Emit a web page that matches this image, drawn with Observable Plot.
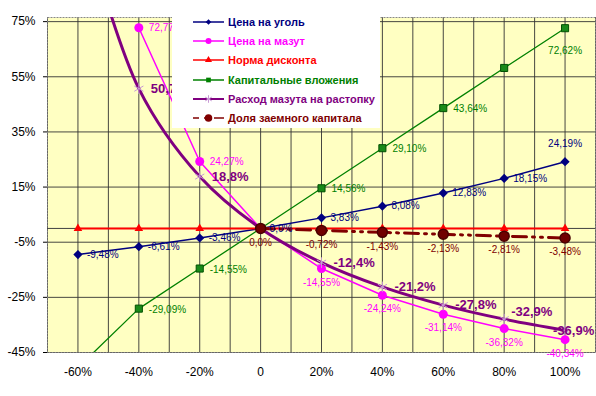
<!DOCTYPE html>
<html><head><meta charset="utf-8">
<script src="https://cdn.jsdelivr.net/npm/d3@7"></script>
<script src="https://cdn.jsdelivr.net/npm/@observablehq/plot@0.6"></script>
<style>
body{margin:0;background:#fff;font-family:"Liberation Sans",Arial,sans-serif;}
#wrap{position:relative;width:596px;height:396px;}
#legend{position:absolute;left:172px;top:0;width:208px;height:128px;background:#fff;}
</style></head><body><div id="wrap"></div>
<script>
// Data (percent change of the NPV-type indicator vs. percent change of factor)
const xs      = [-60, -40, -20, 0, 20, 40, 60, 80, 100];
const ugol    = [-9.48, -6.61, -3.46, 0, 3.83, 8.08, 12.83, 18.15, 24.19];
const mazut   = [null, 72.77, 24.27, 0, -14.55, -24.24, -31.14, -36.32, -40.34];
const norma   = [0, 0, 0, 0, 0, 0, 0, 0, 0];
const kap     = [-50.5, -29.09, -14.55, 0, 14.56, 29.10, 43.64, 58.2, 72.62];
const rashod  = [118, 50.7, 18.8, 0, -12.4, -21.2, -27.8, -32.9, -36.9];
const dolya   = [null, null, null, 0, -0.72, -1.43, -2.13, -2.81, -3.48];

const xTicks = [-60, -40, -20, 0, 20, 40, 60, 80, 100];
const yTicks = [75, 55, 35, 15, -5, -25, -45];
const seriesNames = ["Цена на уголь", "Цена на мазут", "Норма дисконта",
  "Капитальные вложения", "Расход мазута на растопку", "Доля заемного капитала"];
const colors = ["#000080", "#FF00FF", "#FF0000", "#008000", "#800080", "#800000"];

// which points carry a data label
const ugolLab   = [-60, -40, -20, 0, 20, 40, 60, 80, 100];
const mazutLab  = [-40, -20, 20, 40, 60, 80, 100];
const kapLab    = [-40, -20, 20, 40, 60, 100];
const rashodLab = [-40, -20, 20, 40, 60, 80, 100];
const dolyaLab  = [0, 20, 40, 60, 80, 100];

const rows = (arr) => xs.map((x, i) => ({x, y: arr[i]})).filter(d => d.y != null);
const labRows = (arr, which, dec) => rows(arr).filter(d => which.includes(d.x))
  .map(d => ({...d, t: d.y === 0 ? "0,0%" : d.y.toFixed(dec).replace(".", ",") + "%"}));

const U = labRows(ugol, ugolLab, 2), M = labRows(mazut, mazutLab, 2),
      K = labRows(kap, kapLab, 2), R = labRows(rashod, rashodLab, 1), D = labRows(dolya, dolyaLab, 2);

const FF = '"Liberation Sans", Arial, sans-serif';
const lab = (data, color, opts) => Plot.text(data, {x: "x", y: "y", text: "t", fill: color, fontSize: 10, ...opts});

const plot = Plot.plot({
  width: 596, height: 396,
  marginLeft: 47, marginRight: 1, marginTop: 17, marginBottom: 44,
  style: {fontFamily: FF, fontSize: "12px", background: "transparent", color: "#000"},
  x: {domain: [-70, 110], label: null},
  y: {domain: [-45, 76.5], label: null},
  marks: [
    Plot.frame({fill: "#FFFFC2", stroke: null}),
    Plot.gridX(d3.range(-70, 111, 10), {stroke: "#333", strokeOpacity: 0.9, strokeWidth: 1}),
    Plot.gridY(yTicks, {stroke: "#333", strokeOpacity: 0.9, strokeWidth: 1}),
    Plot.frame({stroke: "#888", strokeDasharray: "2,1"}),
    Plot.axisX(xTicks, {label: null, tickSize: 0, tickPadding: 15, fontSize: 12, tickFormat: d => d === 0 ? "0" : d + "%"}),
    Plot.axisY(yTicks, {label: null, tickSize: 4, tickPadding: 8, fontSize: 12, tickFormat: d => d + "%"}),
    Plot.ruleY([0], {stroke: "#404040"}),
    // Цена на уголь
    Plot.line(rows(ugol), {x: "x", y: "y", stroke: colors[0], strokeWidth: 1.5, clip: true}),
    Plot.dot(rows(ugol), {x: "x", y: "y", symbol: "diamond2", r: 3.2, fill: colors[0], stroke: colors[0], clip: true}),
    // Цена на мазут
    Plot.line(rows(mazut), {x: "x", y: "y", stroke: colors[1], strokeWidth: 1.5, clip: true}),
    Plot.dot(rows(mazut), {x: "x", y: "y", symbol: "circle", r: 4.5, fill: colors[1], stroke: null, clip: true}),
    // Норма дисконта
    Plot.line(rows(norma), {x: "x", y: "y", stroke: colors[2], strokeWidth: 2, clip: true}),
    Plot.dot(rows(norma), {x: "x", y: "y", symbol: "triangle", r: 3.2, fill: colors[2], stroke: null, clip: true}),
    // Капитальные вложения
    Plot.line(rows(kap), {x: "x", y: "y", stroke: colors[3], strokeWidth: 1.3, clip: true}),
    Plot.dot(rows(kap), {x: "x", y: "y", symbol: "square", r: 4, fill: "#1a8a1a", stroke: "#005000", strokeWidth: 1, clip: true}),
    // Расход мазута на растопку
    Plot.line(rows(rashod), {x: "x", y: "y", stroke: colors[4], strokeWidth: 3, curve: "catmull-rom", clip: true}),
    Plot.dot(rows(rashod), {x: "x", y: "y", symbol: "asterisk", r: 5, stroke: "#C99AD6", strokeWidth: 1, clip: true}),
    // Доля заемного капитала
    Plot.line(rows(dolya), {x: "x", y: "y", stroke: colors[5], strokeWidth: 3, strokeDasharray: "14,6,2,6,2,6", clip: true}),
    Plot.dot(rows(dolya), {x: "x", y: "y", symbol: "circle", r: 5, fill: "#700000", stroke: "#4a0000", clip: true}),
    // labels
    lab(U.filter(d => d.x !== 100), colors[0], {textAnchor: "start", dx: 9}),
    lab(U.filter(d => d.x === 100), colors[0], {dy: -18}),
    lab(M.filter(d => d.x < 0), colors[1], {textAnchor: "start", dx: 10}),
    lab(M.filter(d => d.x > 0), colors[1], {dy: 14}),
    lab(K.filter(d => d.x !== 100), colors[3], {textAnchor: "start", dx: 10, dy: 1}),
    lab(K.filter(d => d.x === 100), colors[3], {dy: 23}),
    lab(R.filter(d => d.x < 80), colors[4], {textAnchor: "start", dx: 12, fontSize: 13, fontWeight: "bold"}),
    lab(R.filter(d => d.x === 80), colors[4], {textAnchor: "start", dx: 7, dy: -7, fontSize: 13, fontWeight: "bold"}),
    lab(R.filter(d => d.x === 100), colors[4], {textAnchor: "start", dx: -12, dy: 1, fontSize: 13, fontWeight: "bold"}),
    lab(D, colors[5], {dy: 14})
  ]
});

const wrap = document.getElementById("wrap");
wrap.appendChild(plot);

// Legend box (overlays the plot, like the original)
const leg = d3.select(wrap).append("div").attr("id", "legend");
const svg = leg.append("svg").attr("width", 208).attr("height", 128);
const yPos = [22, 41, 60, 80, 99, 118];
const sym = [d3.symbolDiamond2, d3.symbolCircle, d3.symbolTriangle, d3.symbolSquare, d3.symbolAsterisk, d3.symbolCircle];
const symSize = [20, 28, 22, 22, 40, 45];
seriesNames.forEach((name, i) => {
  const g = svg.append("g").attr("transform", `translate(0,${yPos[i]})`);
  g.append("line").attr("x1", 21).attr("x2", 52).attr("y1", 0).attr("y2", 0)
    .attr("stroke", colors[i]).attr("stroke-width", i === 4 ? 2 : 1.5)
    .attr("stroke-dasharray", i === 5 ? "6,5,1,100" : null);
  if (i === 5) g.append("line").attr("x1", 42).attr("x2", 52).attr("y1", 0).attr("y2", 0)
    .attr("stroke", colors[i]).attr("stroke-width", 1.5);
  const s = d3.symbol(sym[i], symSize[i])();
  g.append("path").attr("d", s).attr("transform", "translate(36.5,0)")
    .attr("fill", i === 4 ? "none" : colors[i]).attr("stroke", i === 4 ? "#C99AD6" : "none");
  g.append("text").attr("x", 56).attr("y", 0).attr("dy", "0.35em")
    .attr("fill", colors[i]).attr("font-size", 11).attr("font-weight", "bold")
    .attr("font-family", FF).text(name);
});
</script>
</body></html>
